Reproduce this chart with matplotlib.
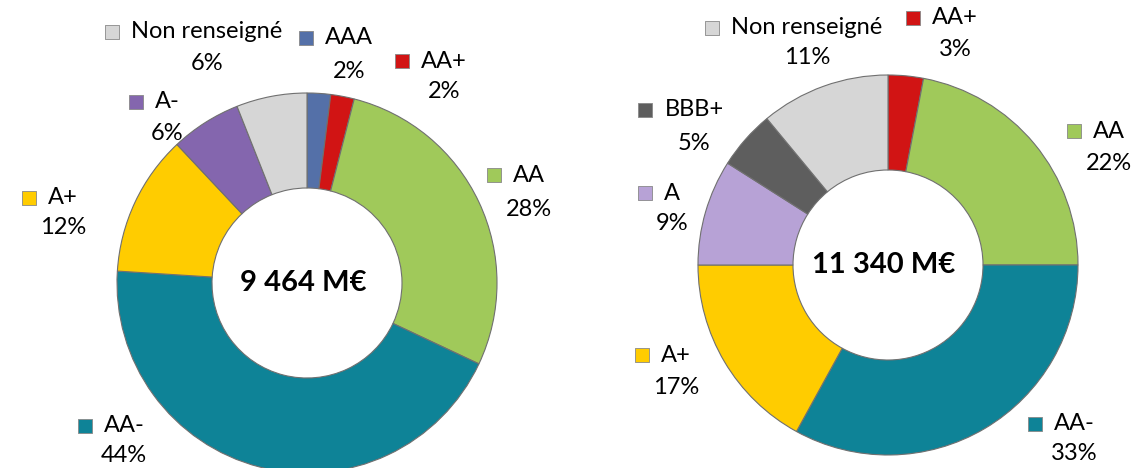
import matplotlib
matplotlib.use("Agg")
import matplotlib.pyplot as plt

H = 468  # figure height in pixels, used to flip pixel y

# left donut
labels_1 = ["AAA", "AA+", "AA", "AA-", "A+", "A-", "Non renseigné"]
values_1 = [2, 2, 28, 44, 12, 6, 6]
total_1 = "9 464 M€"

# right donut
labels_2 = ["AA+", "AA", "AA-", "A+", "A", "BBB+", "Non renseigné"]
values_2 = [3, 22, 33, 17, 9, 5, 11]
total_2 = "11 340 M€"

colors = {
    "AAA": "#5470A8",
    "AA+": "#D11414",
    "AA": "#A0C95A",
    "AA-": "#0E8397",
    "A+": "#FFCC00",
    "A-": "#8466AE",
    "A": "#B7A2D6",
    "BBB+": "#5E5E5E",
    "Non renseigné": "#D6D6D6",
}

# label block: centre x, y of name line, y of percent line (pixels)
pos_1 = {
    "AAA": (349, 38, 72), "AA+": (444, 61, 92), "AA": (529, 175, 210),
    "AA-": (124, 426, 455), "A+": (63, 198, 228), "A-": (167, 102, 133),
    "Non renseigné": (207, 32, 63),
}
pos_2 = {
    "AA+": (955, 18, 50), "AA": (1109, 131, 163), "AA-": (1074, 424, 454),
    "A+": (676, 355, 388), "A": (672, 193, 223), "BBB+": (694, 110, 143),
    "Non renseigné": (807, 28, 58),
}

fig = plt.figure(figsize=(11.4, 4.68), dpi=100)
ax = fig.add_axes([0, 0, 1, 1])
ax.set_xlim(0, 1140)
ax.set_ylim(0, H)
ax.set_aspect("equal")
ax.axis("off")

font = ["Lato", "DejaVu Sans"]
renderer = fig.canvas.get_renderer()


def donut(labels, values, centre, total, pos):
    cols = [colors[l] for l in labels]
    ax.pie(values, colors=cols, startangle=90, counterclock=False,
           center=(centre[0], H - centre[1]), radius=190, frame=True,
           wedgeprops=dict(width=95, edgecolor="#707070", linewidth=0.8))
    ax.text(centre[0] - 4, H - centre[1], total, ha="center", va="center",
            fontsize=21, fontweight="bold", family=font)
    for lab, v in zip(labels, values):
        cx, y1, y2 = pos[lab]
        t = ax.text(cx, H - y1, lab, ha="center", va="center",
                    fontsize=17, family=font)
        ax.text(cx, H - y2, str(v) + "%", ha="center", va="center",
                fontsize=17, family=font)
        # little square key left of the name
        bb = t.get_window_extent(renderer)
        ax.scatter([bb.x0 - 19], [H - y1], marker="s", s=90,
                   color=colors[lab], edgecolors="#888888", linewidths=0.6,
                   zorder=3)


donut(labels_1, values_1, (307, 283), total_1, pos_1)
donut(labels_2, values_2, (888, 265), total_2, pos_2)

ax.set_xlim(0, 1140)
ax.set_ylim(0, H)

fig.savefig("out.png", dpi=100)
